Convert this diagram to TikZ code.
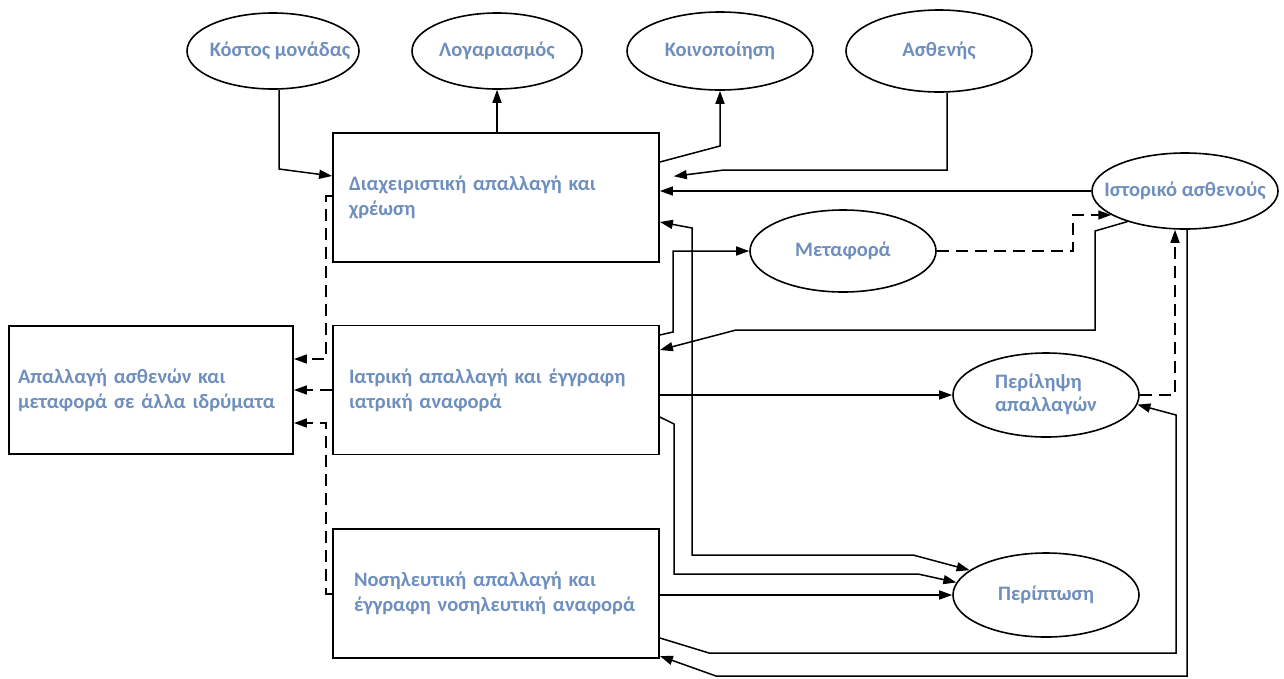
\documentclass[tikz,border=0pt]{standalone}
\usepackage{fontspec}
\setmainfont{Carlito}
\usetikzlibrary{shapes.geometric,arrows.meta}
\definecolor{labelblue}{RGB}{110,143,190}

% zero-width wrapper, so that the ellipse keeps its given size
\newcommand{\zwtext}[1]{\makebox[0pt][c]{#1}}

\tikzset{
  lbl/.style={text=labelblue, font=\bfseries\fontsize{20.5}{25}\selectfont},
  proc/.style={lbl, draw, line width=1.8pt, rectangle, minimum width=326pt,
    minimum height=129pt, inner xsep=16pt, inner ysep=0pt, text width=294pt, align=left},
  ent/.style={lbl, draw, line width=1.6pt, ellipse, inner sep=0pt,
    minimum width=186pt, minimum height=82pt},
  flow/.style={line width=1.5pt, -{Triangle[length=13pt,width=9pt]}},
  both/.style={line width=1.5pt, {Triangle[length=13pt,width=9pt]}-{Triangle[length=13pt,width=9pt]}},
  dflow/.style={flow, dash pattern=on 12pt off 7pt},
}

\begin{document}
\begin{tikzpicture}[x=1pt,y=-1pt]
\path[use as bounding box] (0,0) rectangle (1284,678);

% process boxes
\node[proc] (dx)  at (496,197.5) {Διαχειριστική απαλλαγή και\\χρέωση};
\node[proc] (iat) at (496,390) {Ιατρική απαλλαγή και έγγραφη\\ιατρική αναφορά};
\node[proc, inner xsep=21pt, text width=284pt] (nos) at (496,593.5) {Νοσηλευτική απαλλαγή και\\έγγραφη νοσηλευτική αναφορά};
\node[proc, minimum width=284pt, inner xsep=9pt, text width=266pt, minimum height=128pt] (out) at (151,390) {Απαλλαγή ασθενών και\\μεταφορά σε άλλα ιδρύματα};

% entities
\node[ent, minimum width=172pt, minimum height=76pt] (cost)  at (273,51) {\zwtext{\hspace*{14pt}Κόστος μονάδας}};
\node[ent, minimum width=170pt, minimum height=76pt] (acct)  at (497,51) {\zwtext{Λογαριασμός}};
\node[ent, minimum height=78pt] (notif) at (720,51) {\zwtext{Κοινοποίηση}};
\node[ent, minimum height=82pt] (pat)   at (939,51) {\zwtext{Ασθενής}};
\node[ent, minimum height=76pt] (hist)  at (1185,191) {\zwtext{Ιστορικό ασθενούς}};
\node[ent] (trans) at (843,251) {\zwtext{Μεταφορά}};
\node[ent, minimum height=84pt] (sum)   at (1046,395) {\zwtext{\begin{tabular}{@{}l@{}}Περίληψη\\[-2pt]απαλλαγών\end{tabular}}};
\node[ent, minimum height=84pt] (case)  at (1046,595) {\zwtext{Περίπτωση}};

% top connectors
\draw[flow] (cost.south -| 279,0) -- (279,169) -- (dx.west |- 0,176);
\draw[flow] (dx.north -| acct.south) -- (acct.south);
\draw[flow] (dx.east |- 0,162) -- (720,146) -- (notif.south);
\draw[flow, shorten >=14pt] (pat.south -| 947,0) -- (947,170) -- (724,170) -- (dx.east |- 0,178);
\draw[flow] (hist.west) -- (dx.east |- hist.west);

% connectors on the right
\draw[flow] (hist.208) -- (1095,231) -- (1095,330) -- (736,330) -- (iat.east |- 0,350);
\draw[dflow] (trans.east) -- (1073,0 |- trans.east) -- (1073,0 |- hist.198) -- (hist.198);
\draw[both] (dx.east |- 0,222) -- (692,228) -- (692,555) -- (913,555) -- (case.162);
\draw[flow] (iat.east |- 0,335) -- (673,332) -- (673,0 |- trans.west) -- (trans.west);
\draw[flow] (iat.east |- sum.west) -- (sum.west);
\draw[flow] (iat.east |- 0,417) -- (674,424) -- (674,574) -- (918,574) -- (case.172);
\draw[flow] (nos.east |- case.west) -- (case.west);
\draw[flow] (hist.south -| 1187,0) -- (1187,676) -- (716,676) -- (nos.east |- 0,656);
\draw[flow] (nos.east |- 0,638) -- (709,653) -- (1176,653) -- (1176,415) -- (sum.354);
\draw[dflow] (sum.east) -- (1175,0 |- sum.east) -- (hist.south -| 1175,0);

% connectors on the left
\draw[dflow] (dx.west |- 0,196) -- (326,196) -- (326,359) -- (out.east |- 0,359);
\draw[dflow] (iat.west |- 0,390) -- (out.east |- 0,390);
\draw[dflow] (nos.west |- 0,594) -- (326,594) -- (326,423) -- (out.east |- 0,423);
\end{tikzpicture}
\end{document}
